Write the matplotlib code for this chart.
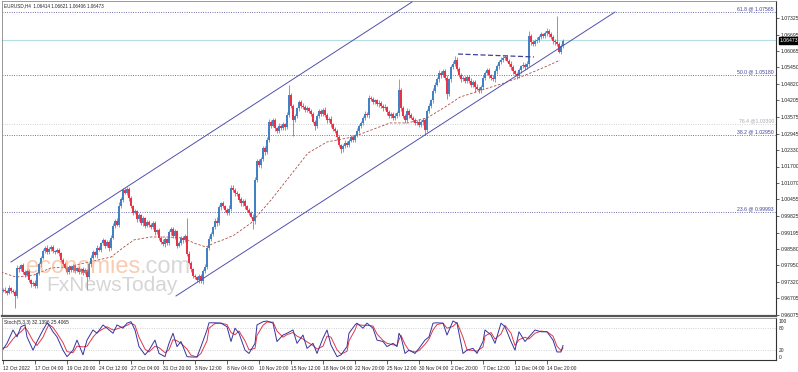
import matplotlib
matplotlib.use('Agg')
import matplotlib.pyplot as plt
import numpy as np

W, H = 798, 372
BASE = 0.96  # prices below are stored as pips above this base

# H4 closes, pips above 0.9600, one per bar (12 Oct 2022 12:00 onwards)
closes_pips = [
    104, 98, 92, 110, 100, 96, 78, 185, 180, 195, 172, 160, 175, 140, 125, 130, 118, 165, 200, 225,
    250, 262, 245, 258, 265, 250, 248, 255, 242, 215, 200, 185, 170, 188, 178, 192, 175, 185, 170, 182,
    168, 178, 150, 200, 225, 245, 235, 262, 255, 280, 290, 270, 285, 260, 300, 345, 365, 350, 420, 445,
    480, 470, 485, 450, 420, 395, 400, 370, 385, 355, 375, 345, 360, 350, 340, 355, 320, 330, 300, 285,
    275, 295, 280, 320, 335, 305, 325, 270, 280, 300, 290, 305, 240, 205, 180, 155, 150, 140, 155, 135,
    175, 190, 260, 295, 315, 340, 365, 355, 415, 430, 420, 405, 395, 410, 490, 480, 470, 465, 445, 430,
    440, 420, 405, 395, 380, 362, 520, 590, 575, 600, 640, 625, 670, 740, 725, 745, 715, 705, 725, 715,
    730, 720, 765, 840, 800, 745, 760, 790, 815, 800, 795, 785, 790, 780, 770, 740, 725, 760, 780, 770,
    785, 765, 745, 750, 730, 712, 705, 680, 650, 635, 648, 660, 652, 668, 680, 672, 688, 705, 725, 735,
    755, 770, 765, 830, 825, 815, 820, 805, 812, 800, 790, 795, 775, 760, 770, 755, 762, 772, 860, 790,
    760, 745, 780, 765, 755, 745, 735, 740, 728, 738, 745, 710, 780, 800, 820, 855, 880, 900, 925, 915,
    930, 905, 845, 900, 945, 960, 975, 940, 915, 900, 905, 895, 910, 895, 880, 890, 872, 865, 858, 870,
    905, 925, 935, 915, 905, 900, 930, 950, 965, 975, 980, 985, 970, 960, 945, 930, 920, 912, 935, 950,
    955, 945, 960, 1065, 1040, 1035, 1045, 1050, 1060, 1070, 1065, 1075, 1082, 1070, 1060, 1045, 1040, 1035, 1005, 1025,
    1047,
]
first_open_pips = 100

upper_wick_pips = [
    6, 8, 5, 10, 4, 7, 5, 12, 8, 6, 9, 5, 7, 6, 4, 8, 10, 6, 9, 7,
    8, 5, 10, 6, 7, 9, 4, 8, 6, 5, 7, 10, 6, 8, 5, 9, 7, 6, 8, 5,
    6, 9, 5, 8, 10, 7, 6, 12, 8, 5, 9, 6, 7, 8, 10, 12, 6, 9, 15, 8,
    10, 7, 8, 6, 9, 5, 8, 7, 10, 6, 8, 5, 9, 7, 6, 8, 10, 5, 7, 6,
    9, 8, 6, 10, 7, 5, 8, 6, 9, 7, 6, 8, 70, 10, 8, 6, 9, 5, 7, 8,
    6, 9, 7, 10, 8, 6, 9, 12, 8, 7, 10, 6, 8, 15, 9, 10, 7, 8, 6, 9,
    7, 8, 6, 9, 5, 10, 12, 8, 10, 7, 9, 8, 12, 10, 8, 7, 9, 6, 8, 7,
    9, 6, 12, 40, 10, 8, 9, 7, 8, 6, 10, 7, 9, 5, 8, 7, 6, 9, 8, 7,
    6, 9, 8, 7, 10, 6, 8, 7, 9, 6, 8, 10, 7, 6, 9, 8, 7, 10, 6, 8,
    7, 9, 6, 12, 8, 10, 7, 6, 9, 8, 7, 10, 6, 9, 8, 7, 10, 8, 40, 9,
    8, 7, 10, 6, 9, 8, 7, 6, 10, 8, 7, 9, 8, 10, 6, 12, 9, 8, 10, 7,
    9, 8, 10, 7, 8, 9, 15, 8, 7, 10, 6, 9, 8, 7, 10, 6, 8, 9, 7, 8,
    10, 7, 9, 8, 6, 10, 8, 9, 7, 10, 8, 9, 7, 6, 8, 10, 7, 9, 8, 6,
    9, 8, 10, 20, 8, 10, 7, 9, 8, 10, 7, 9, 12, 8, 10, 7, 9, 100, 8, 10,
    6,
]
lower_wick_pips = [
    5, 7, 9, 6, 8, 6, 43, 7, 10, 6, 8, 9, 5, 7, 10, 6, 8, 7, 5, 9,
    6, 8, 7, 5, 9, 6, 8, 7, 10, 6, 8, 5, 9, 7, 6, 8, 10, 6, 7, 9,
    8, 6, 48, 7, 9, 6, 8, 10, 5, 7, 8, 9, 6, 10, 7, 5, 8, 6, 9, 7,
    8, 6, 9, 10, 7, 8, 6, 9, 5, 8, 10, 7, 6, 9, 8, 7, 10, 6, 8, 9,
    7, 10, 8, 6, 9, 7, 8, 10, 6, 8, 9, 7, 8, 6, 10, 8, 7, 9, 12, 8,
    10, 7, 8, 6, 9, 8, 7, 10, 6, 9, 8, 7, 10, 9, 8, 6, 10, 7, 8, 9,
    8, 10, 7, 9, 6, 27, 8, 10, 7, 9, 8, 10, 7, 9, 8, 6, 10, 8, 9, 7,
    8, 10, 7, 9, 8, 60, 8, 7, 9, 10, 6, 8, 7, 9, 8, 7, 15, 10, 8, 9,
    7, 8, 10, 6, 9, 8, 7, 10, 8, 12, 9, 7, 8, 10, 6, 9, 8, 7, 10, 8,
    9, 7, 8, 10, 6, 9, 8, 7, 10, 8, 9, 7, 10, 8, 6, 9, 7, 8, 10, 8,
    7, 9, 8, 10, 6, 8, 9, 7, 10, 8, 9, 22, 8, 7, 9, 10, 8, 6, 9, 8,
    7, 9, 20, 8, 10, 7, 9, 8, 6, 10, 8, 7, 9, 10, 8, 9, 18, 7, 8, 10,
    8, 9, 7, 10, 8, 6, 9, 8, 10, 7, 9, 8, 6, 10, 8, 9, 7, 10, 8, 9,
    8, 10, 7, 9, 8, 7, 10, 8, 9, 7, 8, 10, 9, 8, 7, 10, 8, 9, 5, 9,
    7,
]

# dashed moving average, sampled (bar index, price)
ma_bars = [-1, 6.5, 15.5, 24, 32.5, 40.5, 54, 60.5, 65.5, 74, 82.5, 90.5, 95.5, 101.5, 105.5, 110,
           115.5, 124, 134, 147, 152.5, 162, 175, 184, 193.5, 202.5, 212, 221, 228.5, 239.5, 250.5,
           261.5, 271, 278.5]
ma_pips = [170, 151, 159, 186, 189, 204, 227, 265, 292, 303, 303, 299, 280, 265, 280, 292,
           310, 356, 443, 568, 621, 663, 682, 708, 735, 735, 754, 795, 833, 860, 886,
           917, 947, 973]

# channel and trendline end points (bar index, price)
chan_up_x, chan_up_y = [4, 204.5], [0.98083, 1.07931]
chan_lo_x, chan_lo_y = [86.5, 306], [0.96795, 1.07552]
trend_x, trend_y = [227.5, 265.5], [1.05960, 1.05850]

# Fibonacci levels
fib_levels = [1.07565, 1.05180, 1.02900, 0.99993]
fib_labels = ['61.8 @ 1.07565', '50.0 @ 1.05180', '38.2 @ 1.02950', '23.6 @ 0.99993']
fib_gray_level = 1.03300
fib_gray_label = '76.4 @1.03300'

last_price = 1.06473
price_ticks = ['1.07325', '1.06695', '1.06065', '1.05450', '1.04820', '1.04205', '1.03575',
               '1.02945', '1.02330', '1.01700', '1.01070', '1.00455', '0.99825', '0.99195',
               '0.98580', '0.97950', '0.97320', '0.96705', '0.96075']

time_labels = ['12 Oct 2022', '17 Oct 04:00', '19 Oct 20:00', '24 Oct 12:00', '27 Oct 04:00',
               '31 Oct 20:00', '3 Nov 12:00', '8 Nov 04:00', '10 Nov 20:00', '15 Nov 12:00',
               '18 Nov 04:00', '22 Nov 20:00', '25 Nov 12:00', '30 Nov 04:00', '2 Dec 20:00',
               '7 Dec 12:00', '12 Dec 04:00', '14 Dec 20:00']
bars_per_label = 16

# stochastic (5,3,3) samples
stoch_x = [0, 2, 5, 7, 9, 11, 12, 15, 17, 20, 22, 23, 25, 27, 30, 32, 35, 37, 40, 42,
           45, 47, 50, 52, 55, 57, 60, 62, 64, 66, 68, 71, 73, 76, 78, 81, 83, 85, 87, 89,
           92, 94, 97, 99, 102, 103, 106, 109, 112, 114, 116, 118, 121, 123, 126, 127, 130, 132, 135, 137,
           140, 142, 145, 147, 150, 152, 155, 157, 160, 162, 164, 167, 169, 172, 173, 176, 177, 180, 182, 185,
           187, 190, 192, 195, 197, 198, 199, 201, 203, 206, 208, 211, 213, 215, 217, 220, 222, 225, 227, 230,
           232, 235, 237, 240, 241, 244, 246, 249, 251, 254, 256, 258, 261, 263, 266, 269, 272, 275, 277, 279,
           280]
stoch_k = [21, 38, 75, 56, 84, 89, 56, 19, 43, 75, 94, 89, 70, 56, 19, 1, 19, 47, 6, 47,
           75, 66, 89, 80, 66, 89, 80, 94, 98, 75, 29, 6, 19, 47, 10, 1, 38, 66, 29, 43,
           1, 0, 0, 29, 75, 95, 95, 94, 84, 43, 80, 66, 19, 10, 38, 89, 98, 100, 94, 43,
           61, 66, 75, 38, 61, 24, 38, 10, 52, 75, 33, 1, 6, 29, 66, 89, 94, 80, 94, 80,
           47, 43, 29, 38, 29, 66, 56, 10, 19, 10, 24, 47, 56, 94, 95, 94, 61, 100, 94, 10,
           19, 24, 10, 43, 75, 61, 38, 94, 84, 43, 19, 70, 43, 56, 75, 70, 70, 47, 14, 14,
           32]
stoch_d = [25, 28, 50, 62, 70, 82, 75, 45, 32, 55, 80, 90, 82, 66, 40, 15, 12, 30, 28, 30,
           55, 68, 78, 84, 75, 78, 84, 88, 94, 88, 55, 22, 14, 30, 26, 12, 20, 48, 45, 38,
           22, 5, 0, 10, 45, 80, 93, 94, 90, 68, 62, 72, 45, 20, 24, 60, 88, 97, 97, 72,
           55, 62, 68, 58, 50, 42, 32, 22, 30, 58, 55, 20, 8, 16, 45, 75, 90, 88, 88, 86,
           64, 46, 38, 34, 32, 48, 60, 35, 18, 14, 18, 35, 50, 75, 90, 94, 80, 85, 96, 55,
           20, 18, 16, 28, 58, 68, 50, 64, 88, 66, 32, 48, 55, 50, 66, 72, 70, 58, 30, 18,
           25]

BLUE = '#4282c4'
RED = '#ea3246'
NAVY = '#40409a'
CHAN = '#5050ac'
TXT = '#222222'
plt.rcParams['font.family'] = ['Liberation Sans', 'DejaVu Sans']

fig = plt.figure(figsize=(W / 100, H / 100), dpi=100)
fig.set_facecolor('white')
ax = fig.add_axes([2 / W, 1 - 316 / H, 774 / W, 315 / H])
ax2 = fig.add_axes([2 / W, 1 - 360 / H, 774 / W, 42 / H])

n = len(closes_pips)
idx = np.arange(n)
close = BASE + np.array(closes_pips) / 10000
open_ = np.concatenate([[BASE + first_open_pips / 10000], close[:-1]])
high = np.maximum(open_, close) + np.array(upper_wick_pips) / 10000
low = np.minimum(open_, close) - np.array(lower_wick_pips) / 10000
colors = np.where(close >= open_, BLUE, RED)

y_top = 1.07325 + 17 / 2640
y_bot = 1.07325 - 298 / 2640
ax.set_xlim(-0.5, 386.5)
ax.set_ylim(y_bot, y_top)

# fibonacci lines
for lev, lab in zip(fib_levels, fib_labels):
    ax.axhline(lev, color=NAVY, lw=0.6, ls=(0, (1.0, 1.8)), zorder=1)
    ax.text(385.5, lev + 0.0002, lab, fontsize=3.7, color=NAVY, ha='right', va='bottom')
ax.axhline(fib_gray_level, color='#c0c0cc', lw=0.6, ls=(0, (1.0, 1.8)), zorder=1)
ax.text(385.5, fib_gray_level + 0.0002, fib_gray_label, fontsize=3.7, color='#a8a8b0',
        ha='right', va='bottom')

ax.axhline(last_price, color='#b4dde6', lw=0.8, zorder=1)

# candles
ax.vlines(idx, low, high, colors=colors, lw=0.5, zorder=3)
body = np.maximum(np.abs(close - open_), 0.00005)
ax.bar(idx, body, bottom=np.minimum(open_, close), width=0.6, color=colors,
       linewidth=0, zorder=3)

ax.plot(ma_bars, BASE + np.array(ma_pips) / 10000, color='#a85048', lw=0.6,
        dashes=(3, 2), zorder=4)
ax.plot(chan_up_x, chan_up_y, color=CHAN, lw=0.7, zorder=4)
ax.plot(chan_lo_x, chan_lo_y, color=CHAN, lw=0.7, zorder=4)
ax.plot(trend_x, trend_y, color=NAVY, lw=0.9, dashes=(4, 2), zorder=4)

# price scale
ax.yaxis.tick_right()
ax.set_yticks([float(t) for t in price_ticks])
ax.set_yticklabels(price_ticks)
ax.tick_params(axis='y', labelsize=3.7, length=2, width=0.5, pad=1.5, colors=TXT)
ax.set_xticks([])
for s in ['left', 'top']:
    ax.spines[s].set_color('#888888')
    ax.spines[s].set_linewidth(0.6)
ax.spines['right'].set_color('#333333')
ax.spines['right'].set_linewidth(0.8)
ax.spines['bottom'].set_color('#555555')
ax.spines['bottom'].set_linewidth(1.6)

ax.annotate(f'{last_price:.5f}', xy=(1.0, last_price), xycoords=('axes fraction', 'data'),
            xytext=(2.5, 0), textcoords='offset points', fontsize=3.7, color='white',
            va='center', ha='left',
            bbox=dict(boxstyle='square,pad=0.15', facecolor='black', edgecolor='black'))

ax.text(0.003, 0.992, 'EURUSD,H4  1.06414 1.06621 1.06406 1.06473', transform=ax.transAxes,
        fontsize=3.3, color=TXT, va='top', ha='left')

# watermark
wm = ax.text(24 / 774, 1 - 272 / 315, 'economies', transform=ax.transAxes, fontsize=17,
             color='#f29a64', alpha=0.5, va='baseline', ha='left', zorder=6)
ax.annotate('.com', xy=(1, 0), xycoords=wm, fontsize=17, color='#b8b8b8', alpha=0.55,
            va='bottom', ha='left', zorder=6)
ax.text(44 / 774, 1 - 290 / 315, 'FxNewsToday', transform=ax.transAxes, fontsize=15,
        color='#b4b4b4', alpha=0.55, va='baseline', ha='left', zorder=6)

# stochastic panel
ax2.set_xlim(-0.5, 386.5)
ax2.set_ylim(-8.3, 108.3)
for lev in (20, 80):
    ax2.axhline(lev, color='#c4c4c4', lw=0.6, ls=(0, (1.0, 1.8)))
ax2.plot(stoch_x, stoch_d, color='#e0384c', lw=0.7)
ax2.plot(stoch_x, stoch_k, color='#3434a0', lw=0.7)
ax2.text(0.003, 0.95, 'Stoch(5,3,3) 32.1396 25.4065', transform=ax2.transAxes,
         fontsize=3.5, color=TXT, va='top', ha='left')
ax2.yaxis.tick_right()
ax2.set_yticks([0, 20, 80, 100])
ax2.set_yticklabels(['0', '20', '80', '100'])
ax2.tick_params(axis='y', labelsize=3.5, length=0, pad=2, colors=TXT)
ax2.set_xticks([k * bars_per_label for k in range(len(time_labels))])
ax2.set_xticklabels(time_labels, ha='left')
ax2.tick_params(axis='x', labelsize=3.5, length=3, width=0.5, pad=1, colors=TXT)
for s in ['left', 'top']:
    ax2.spines[s].set_color('#888888')
    ax2.spines[s].set_linewidth(0.6)
ax2.spines['right'].set_color('#333333')
ax2.spines['right'].set_linewidth(0.8)
ax2.spines['bottom'].set_color('#333333')
ax2.spines['bottom'].set_linewidth(0.8)

fig.savefig('out.png', dpi=100, facecolor='white')
